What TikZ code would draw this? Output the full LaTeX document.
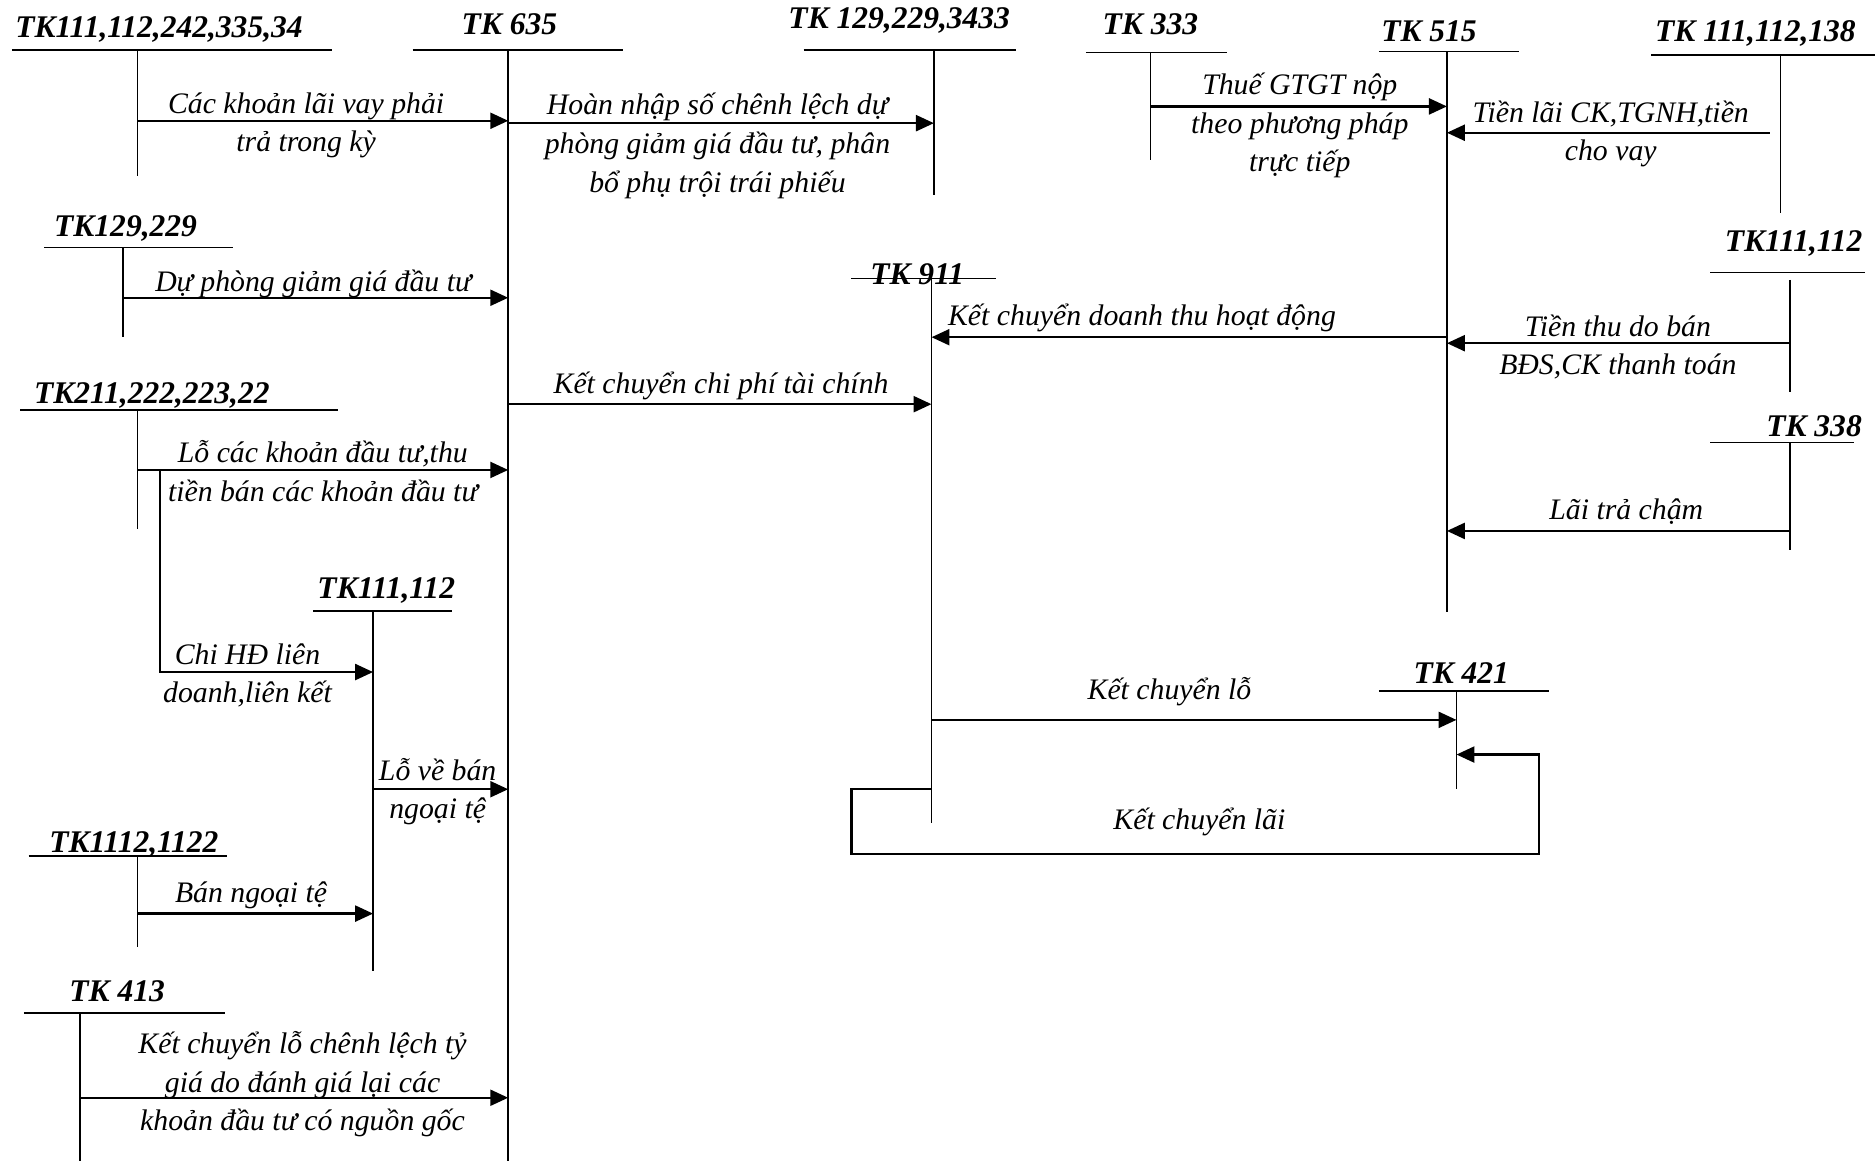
\documentclass[tikz,border=0pt]{standalone}
\usepackage{fontspec}
\setmainfont{Liberation Serif}
\usetikzlibrary{positioning,arrows.meta}

\begin{document}
\begin{tikzpicture}[
  x=0.024cm, y=-0.024cm,
  font=\fontsize{17}{22}\selectfont\itshape,
  acc/.style={font=\fontsize{18}{20}\selectfont\bfseries\itshape, inner sep=0pt},
  lbl/.style={align=center, inner sep=0pt},
  tline/.style={draw=black, line width=0.9pt},
  flow/.style={-{Triangle[length=3.6mm,width=3.2mm]}, draw=black, line width=1.4pt}
]
\useasboundingbox (0,0) rectangle (1568,971);

% accounts: title, underline, side line
\node[acc] (h111a) at (133,25) {TK111,112,242,335,34};
\draw[tline] (10,42) -- (278,42);
\coordinate (a111a) at (115,42);
\draw[tline] (a111a) -- (115,147);

\node[acc] (h635) at (426,20) {TK 635};
\draw[tline] (345,42) -- (521,42);
\coordinate (a635) at (425,42);
\draw[tline] (a635) -- (425,971);

\node[acc] (h129) at (752,17) {TK 129,229,3433};
\draw[tline] (672,42) -- (850,42);
\coordinate (a129) at (781,42);
\draw[tline] (a129) -- (781,163);

\node[acc] (h333) at (962,20) {TK 333};
\draw[tline] (908,44) -- (1026,44);
\coordinate (a333) at (962,44);
\draw[tline] (a333) -- (962,134);

\node[acc] (h515) at (1195,26) {TK 515};
\draw[tline] (1153,43) -- (1270,43);
\coordinate (a515) at (1210,43);
\draw[tline] (a515) -- (1210,512);

\node[acc] (h138) at (1468,28) {TK 111,112,138};
\draw[tline] (1381,46) -- (1568,46);
\coordinate (a138) at (1489,46);
\draw[tline] (a138) -- (1489,178);

\node[acc] (h129b) at (105,191) {TK129,229};
\draw[tline] (37,207) -- (195,207);
\coordinate (a129b) at (103,207);
\draw[tline] (a129b) -- (103,282);

\node[acc] (h111r) at (1500,204) {TK111,112};
\draw[tline] (1430,228) -- (1560,228);
\coordinate (a111r) at (1497,234);
\draw[tline] (a111r) -- (1497,328);

\node[acc] (h911) at (767,229) {TK 911};
\draw[tline] (712,233) -- (833,233);
\coordinate (a911) at (779,233);
\draw[tline] (a911) -- (779,688);

\node[acc] (h211) at (127,331) {TK211,222,223,22};
\draw[tline] (17,343) -- (283,343);
\coordinate (a211) at (115,343);
\draw[tline] (a211) -- (115,442);

\node[acc] (h338) at (1517,356) {TK 338};
\draw[tline] (1430,370) -- (1550,370);
\coordinate (a338) at (1497,370);
\draw[tline] (a338) -- (1497,460);

\node[acc] (h111m) at (323,494) {TK111,112};
\draw[tline] (262,511) -- (378,511);
\coordinate (a111m) at (312,511);
\draw[tline] (a111m) -- (312,812);

\node[acc] (h421) at (1222,563) {TK 421};
\draw[tline] (1153,578) -- (1295,578);
\coordinate (a421) at (1218,578);
\draw[tline] (a421) -- (1218,660);

\node[acc] (h1112) at (112,706) {TK1112,1122};
\draw[tline] (24,716) -- (190,716);
\coordinate (a1112) at (115,716);
\draw[tline] (a1112) -- (115,792);

\node[acc] (h413) at (98,829) {TK 413};
\draw[tline] (20,847) -- (188,847);
\coordinate (a413) at (67,847);
\draw[tline] (a413) -- (67,971);

% entries
\draw[flow] (a111a |- 0,101) -- (a635 |- 0,101);
\node[lbl] (l111a) at (256,105) {Các khoản lãi vay phải\\trả trong kỳ};

\draw[flow] (a635 |- 0,103) -- (a129 |- 0,103);
\node[lbl] (l129) at (600,122) {Hoàn nhập số chênh lệch dự\\phòng giảm giá đầu tư, phân\\bổ phụ trội trái phiếu};

\draw[flow] (a333 |- 0,89) -- (a515 |- 0,89);
\node[lbl] (l333) at (1087,105) {Thuế GTGT nộp\\theo phương pháp\\trực tiếp};

\draw[flow] (1480,111) -- (a515 |- 0,111);
\node[lbl] (l138) at (1347,112) {Tiền lãi CK,TGNH,tiền\\cho vay};

\draw[flow] (a129b |- 0,249) -- (a635 |- 0,249);
\node[lbl] (l129b) at (262,237) {Dự phòng giảm giá đầu tư};

\draw[flow] (a515 |- 0,282) -- (a911 |- 0,282);
\node[lbl] (l515) at (955,266) {Kết chuyển doanh thu hoạt động};

\draw[flow] (a111r |- 0,287) -- (a515 |- 0,287);
\node[lbl] (l111r) at (1353,290) {Tiền thu do bán\\BĐS,CK thanh toán};

\draw[flow] (a635 |- 0,338) -- (a911 |- 0,338);
\node[lbl] (l635) at (603,323) {Kết chuyển chi phí tài chính};

\draw[flow] (a211 |- 0,393) -- (a635 |- 0,393);
\node[lbl] (l211) at (270,394) {Lỗ các khoản đầu tư,thu\\tiền bán các khoản đầu tư};

\coordinate (split) at (134,393);
\draw[flow] (split) -- (134,562) -- (a111m |- 0,562);
\node[lbl] (lhd) at (207,565) {Chi HĐ liên\\doanh,liên kết};

\draw[flow] (a338 |- 0,444) -- (a515 |- 0,444);
\node[lbl] (l338) at (1360,428) {Lãi trả chậm};

\draw[flow] (a911 |- 0,602) -- (a421 |- 0,602);
\node[lbl] (llo) at (978,578) {Kết chuyển lỗ};

\draw[flow] (a911 |- 0,660) -| (712,714) -| (1287,631) -- (a421 |- 0,631);
\node[lbl] (llai) at (1003,687) {Kết chuyển lãi};

\draw[flow] (a111m |- 0,660) -- (a635 |- 0,660);
\node[lbl] (l111m) at (366,662) {Lỗ về bán\\ngoại tệ};

\draw[flow] (a1112 |- 0,764) -- (a111m |- 0,764);
\node[lbl] (l1112) at (210,749) {Bán ngoại tệ};

\draw[flow] (a413 |- 0,918) -- (a635 |- 0,918);
\node[lbl] (l413) at (253,907) {Kết chuyển lỗ chênh lệch tỷ\\giá do đánh giá lại các\\khoản đầu tư có nguồn gốc};
\end{tikzpicture}
\end{document}
